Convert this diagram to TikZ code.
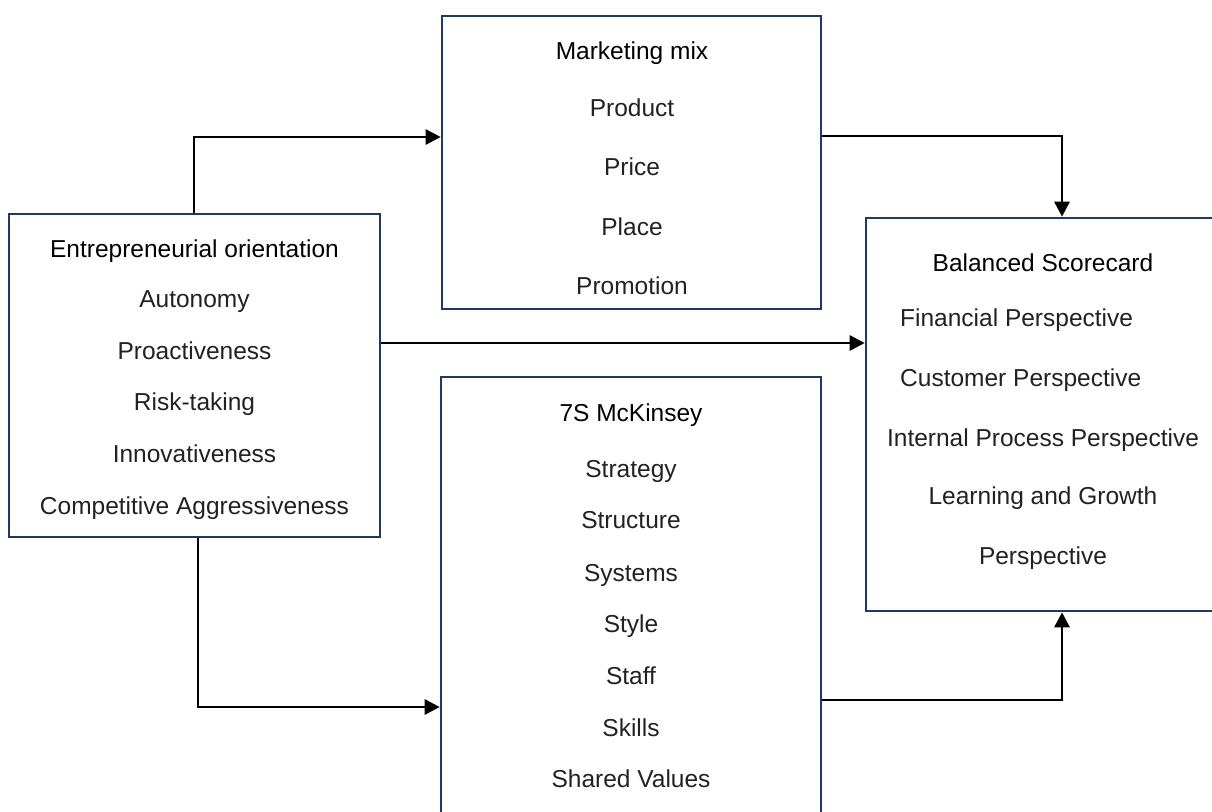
\documentclass[tikz,border=0pt]{standalone}
\usepackage{fontspec}
\setmainfont{Liberation Sans}
\usetikzlibrary{arrows.meta}
\definecolor{boxblue}{HTML}{1F3864}
\definecolor{itemgray}{HTML}{222222}
\tikzset{
  frame/.style={draw=boxblue, line width=2.6pt, rectangle, inner sep=0pt, fill=none},
  ttl/.style={anchor=base, inner sep=0pt, font=\fontsize{24.5}{29}\selectfont, text=black},
  itm/.style={anchor=base, inner sep=0pt, font=\fontsize{24.5}{29}\selectfont, text=itemgray},
  itml/.style={itm, anchor=base west},
  arr/.style={draw=black, line width=2.8pt, -{Triangle[length=15pt,width=15pt]}},
  conn/.style={draw=black, line width=2.8pt}
}
\begin{document}
\begin{tikzpicture}[x=1pt,y=-1pt]
\useasboundingbox[fill=white] (0,0) rectangle (1212,811);

% boxes
\node[frame, minimum width=371pt, minimum height=323pt] (eo) at (194.5,375.5) {};
\node[frame, minimum width=379pt, minimum height=293pt] (mm) at (631.5,162.5) {};
\node[frame, minimum width=380pt, minimum height=473pt] (s7) at (631,613.5) {};
\node[frame, minimum width=380pt, minimum height=393pt] (bsc) at (1056,414.5) {};

% Entrepreneurial orientation
\node[ttl] (eo0) at (194.5,257) {Entrepreneurial orientation};
\node[itm] (eo1) at (194.5,307) {Autonomy};
\node[itm] (eo2) at (194.5,359) {Proactiveness};
\node[itm] (eo3) at (194.5,410) {Risk-taking};
\node[itm] (eo4) at (194.5,462) {Innovativeness};
\node[itm] (eo5) at (194.5,514) {Competitive Aggressiveness};

% Marketing mix
\node[ttl] (mm0) at (632,59) {Marketing mix};
\node[itm] (mm1) at (632,116) {Product};
\node[itm] (mm2) at (632,175) {Price};
\node[itm] (mm3) at (632,235) {Place};
\node[itm] (mm4) at (632,294) {Promotion};

% 7S McKinsey
\node[ttl] (s70) at (631,421) {7S McKinsey};
\node[itm] (s71) at (631,477) {Strategy};
\node[itm] (s72) at (631,528) {Structure};
\node[itm] (s73) at (631,581) {Systems};
\node[itm] (s74) at (631,632) {Style};
\node[itm] (s75) at (631,684) {Staff};
\node[itm] (s76) at (631,736) {Skills};
\node[itm] (s77) at (631,787) {Shared Values};

% Balanced Scorecard
\node[ttl] (b0) at (1043,271) {Balanced Scorecard};
\node[itml] (b1) at (900,326) {Financial Perspective};
\node[itml] (b2) at (900,386) {Customer Perspective};
\node[itm] (b3) at (1043,446) {Internal Process Perspective};
\node[itm] (b4) at (1043,504) {Learning and Growth};
\node[itm] (b5) at (1043,564) {Perspective};

% connectors
\draw[arr] (eo.north -| 194,0) |- (mm.west |- 0,137);
\draw[arr] (mm.east |- 0,136) -| (bsc.north -| 1062,0);
\draw[arr] (eo.east |- 0,343) -- (bsc.west |- 0,343);
\draw[arr] (eo.south -| 198,0) |- (s7.west |- 0,707);
\draw[arr] (s7.east |- 0,700) -| (bsc.south -| 1062,0);
\end{tikzpicture}
\end{document}
